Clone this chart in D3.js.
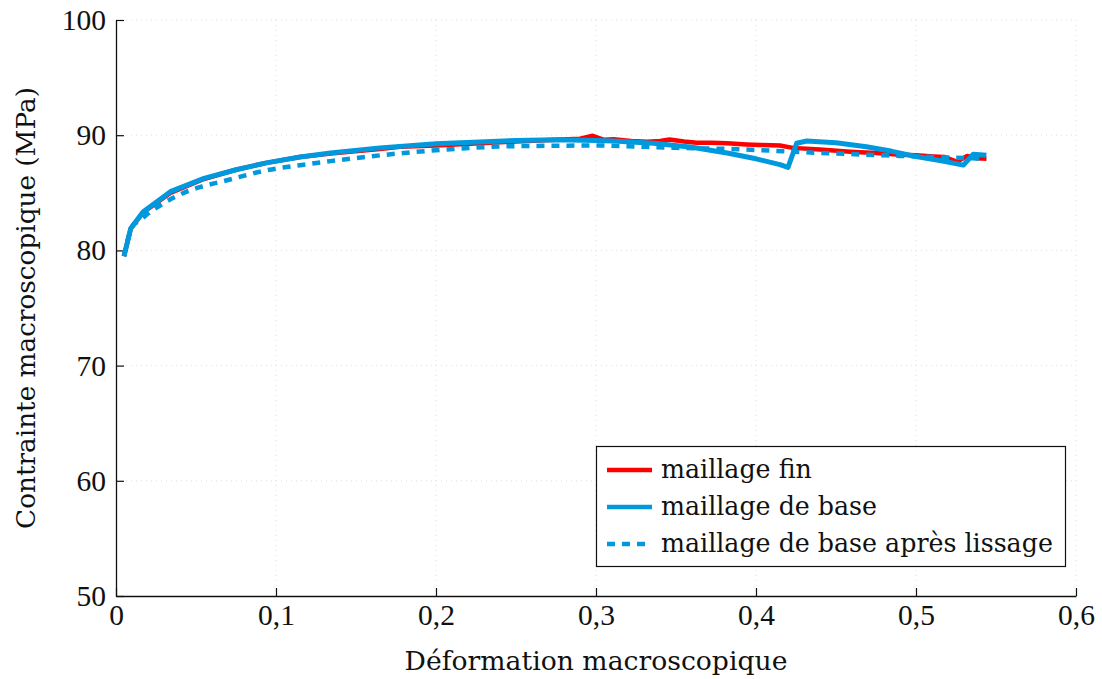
<!DOCTYPE html>
<html><head><meta charset="utf-8">
<script src="https://cdn.jsdelivr.net/npm/d3@7"></script>
<style>body{margin:0;background:#fff}svg{display:block}text{font-family:"DejaVu Serif",serif;fill:#111}</style>
</head><body><svg id="c" width="1102" height="679"></svg>
<script>
const xTicks = [0,0.1,0.2,0.3,0.4,0.5,0.6];
const yTicks = [50,60,70,80,90,100];
const seriesNames = ["maillage fin","maillage de base","maillage de base après lissage"];

const finX = [0.005,0.0092,0.017,0.034,0.055,0.075,0.094,0.115,0.134,0.165,0.1775,0.2,0.25,0.275,0.29,0.298,0.305,0.311,0.322,0.332,0.340,0.346,0.355,0.363,0.372,0.382,0.394,0.403,0.415,0.423,0.44,0.459,0.475,0.49,0.5,0.511,0.518,0.5254,0.532,0.538,0.544];
const finY = [79.5,81.9,83.3,85.0,86.2,87.0,87.6,88.1,88.4,88.8,89.0,89.1,89.45,89.6,89.7,89.95,89.6,89.65,89.5,89.43,89.5,89.62,89.45,89.35,89.35,89.3,89.2,89.15,89.1,88.9,88.75,88.57,88.45,88.3,88.25,88.15,88.1,87.7,88.2,88.0,87.95];

const baseX = [0.005,0.0092,0.017,0.034,0.055,0.075,0.094,0.115,0.134,0.165,0.2,0.25,0.2754,0.3,0.311,0.336,0.36,0.382,0.40,0.415,0.420,0.4254,0.4317,0.45,0.469,0.485,0.5,0.515,0.5296,0.5358,0.544];
const baseY = [79.5,81.9,83.36,85.1,86.25,87.0,87.6,88.1,88.45,88.9,89.25,89.55,89.6,89.55,89.5,89.3,88.95,88.45,87.95,87.45,87.2,89.3,89.5,89.35,89.0,88.6,88.15,87.8,87.4,88.35,88.25];

const lissX = [0.005,0.0106,0.014,0.020,0.0275,0.046,0.0525,0.067,0.094,0.115,0.134,0.165,0.196,0.25,0.3,0.35,0.384,0.434,0.49,0.544];
const lissY = [79.5,82.2,82.5,83.2,83.9,85.2,85.5,86.0,86.95,87.4,87.75,88.25,88.65,89.05,89.1,88.9,88.8,88.5,88.2,87.95];

const svg = d3.select("#c");
const x = d3.scaleLinear().domain([0,0.6]).range([116,1076]);
const y = d3.scaleLinear().domain([50,100]).range([596,20]);
const fmtX = d => d===0 ? "0" : d3.format(".1f")(d).replace(".", ",");

function fit(sel, target){
  const n = sel.node(); const fs = parseFloat(sel.style("font-size"));
  const w = n.getComputedTextLength();
  sel.style("font-size", (fs*target/w)+"px");
}

// grid
svg.append("g").selectAll("line").data(xTicks.slice(1)).join("line")
  .attr("x1",d=>x(d)).attr("x2",d=>x(d)).attr("y1",20).attr("y2",596)
  .attr("stroke","#dedede").attr("stroke-width",1).attr("stroke-dasharray","1,4");
svg.append("g").selectAll("line").data(yTicks.slice(1)).join("line")
  .attr("y1",d=>y(d)).attr("y2",d=>y(d)).attr("x1",116).attr("x2",1076)
  .attr("stroke","#dedede").attr("stroke-width",1).attr("stroke-dasharray","1,4");

// axes
const gx = svg.append("g").attr("transform","translate(0,596)")
  .call(d3.axisBottom(x).tickValues(xTicks).tickFormat(fmtX).tickSizeInner(-8).tickSizeOuter(0).tickPadding(14));
const gy = svg.append("g").attr("transform","translate(116,0)")
  .call(d3.axisLeft(y).tickValues(yTicks).tickSizeInner(-8).tickSizeOuter(0).tickPadding(10));
[gx,gy].forEach(g=>{
  g.select(".domain").attr("stroke","#111").attr("stroke-width",1.3);
  g.selectAll(".tick line").attr("stroke","#111").attr("stroke-width",1.2);
  g.selectAll(".tick text").style("font-family","Liberation Serif, serif").style("font-size","29.5px").attr("fill","#111");
});
gy.selectAll(".tick text").attr("x",-10);
gx.selectAll(".tick text").attr("dy","0.71em").attr("y",8);

// axis titles
const xl = svg.append("text").attr("x",596).attr("y",670).attr("text-anchor","middle")
  .style("font-size","26px").text("Déformation macroscopique");
fit(xl, 383);
const yl = svg.append("text").attr("transform","translate(35,308) rotate(-90)").attr("text-anchor","middle")
  .style("font-size","26px").text("Contrainte macroscopique (MPa)");
fit(yl, 442);

const red = "#ff0000", blue = "#0099dd";
const mk = (xs,ys)=>xs.map((v,i)=>[v,ys[i]]);
const lineL = d3.line().x(d=>x(d[0])).y(d=>y(d[1]));
const lineS = d3.line().x(d=>x(d[0])).y(d=>y(d[1])).curve(d3.curveMonotoneX);

svg.append("path").datum(mk(finX,finY)).attr("d",lineL).attr("fill","none")
  .attr("stroke",red).attr("stroke-width",4.5).attr("stroke-linejoin","round");
svg.append("path").datum(mk(baseX,baseY)).attr("d",lineL).attr("fill","none")
  .attr("stroke",blue).attr("stroke-width",5).attr("stroke-linejoin","round");
svg.append("path").datum(mk(lissX,lissY)).attr("d",lineS).attr("fill","none")
  .attr("stroke",blue).attr("stroke-width",4.5).attr("stroke-dasharray","8,7");

// legend
const lg = svg.append("g");
lg.append("rect").attr("x",596.5).attr("y",446.5).attr("width",469).attr("height",120)
  .attr("fill","#fff").attr("stroke","#111").attr("stroke-width",1.2);
const styles = [{c:red,d:null},{c:blue,d:null},{c:blue,d:"8,7"}];
const lt = [];
seriesNames.forEach((n,i)=>{
  const yy = 470 + i*37;
  lg.append("line").attr("x1",607).attr("x2",652).attr("y1",yy).attr("y2",yy)
    .attr("stroke",styles[i].c).attr("stroke-width",4.5).attr("stroke-dasharray",styles[i].d);
  lt.push(lg.append("text").attr("x",661).attr("y",yy+8).style("font-size","24px").text(n));
});
// scale legend text uniformly so the longest entry matches the reference width
const w3 = lt[2].node().getComputedTextLength();
const lfs = 24*392/w3;
lt.forEach(t=>t.style("font-size",lfs+"px"));
</script></body></html>
